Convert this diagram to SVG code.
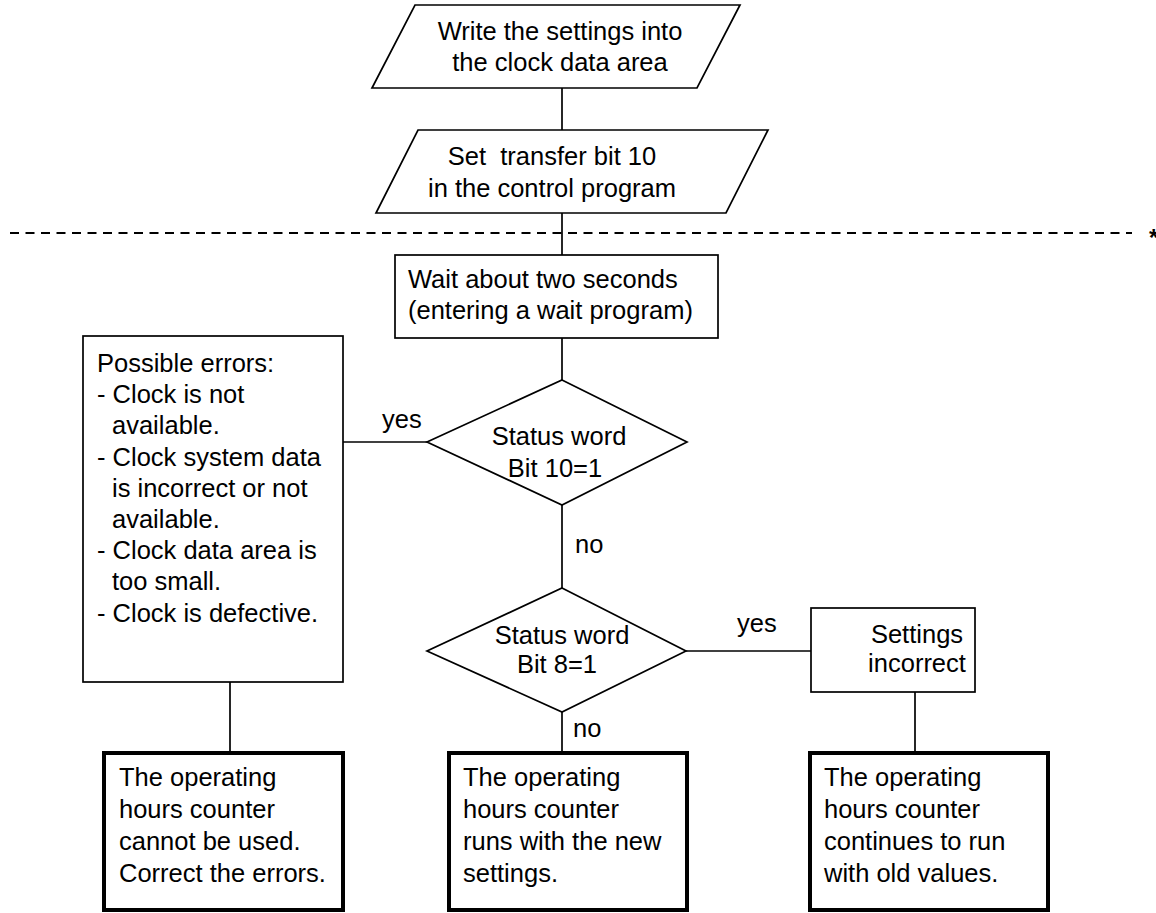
<svg xmlns="http://www.w3.org/2000/svg" width="1156" height="913" viewBox="0 0 1156 913">
<style>
  text { font-family: "Liberation Sans", Arial, sans-serif; font-size: 25.5px; fill: #000; }
  .c { text-anchor: middle; }
  .shape { fill: #fff; stroke: #000; stroke-width: 1.7; }
  .thick { fill: #fff; stroke: #000; stroke-width: 4; }
  .line { fill: none; stroke: #000; stroke-width: 1.7; }
  .dash { fill: none; stroke: #000; stroke-width: 2; stroke-dasharray: 9 6.5; }
</style>
<rect width="1156" height="913" fill="#fff"/>
<g id="connectors">
  <line class="line" x1="562" y1="88" x2="562" y2="130"/>
  <line class="line" x1="562" y1="213" x2="562" y2="255"/>
  <line class="line" x1="562" y1="338" x2="562" y2="380"/>
  <line class="line" x1="562" y1="505" x2="562" y2="588"/>
  <line class="line" x1="562" y1="712" x2="562" y2="753"/>
  <line class="line" x1="343" y1="442" x2="427" y2="442"/>
  <line class="line" x1="686" y1="651" x2="811" y2="651"/>
  <line class="line" x1="230" y1="682" x2="230" y2="753"/>
  <line class="line" x1="915" y1="692" x2="915" y2="753"/>
  <text x="382" y="428">yes</text>
  <text x="575" y="553">no</text>
  <text x="737" y="632">yes</text>
  <text x="573" y="737">no</text>
</g>
<g id="separator">
  <line class="dash" x1="10" y1="233" x2="1132" y2="233"/>
  <text x="1149" y="246" style="font-size:24px;font-weight:bold">*</text>
</g>
<g id="write-settings">
  <polygon class="shape" points="415,5 740,5 697,88 372,88"/>
  <text class="c" x="560" y="40">Write the settings into</text>
  <text class="c" x="560" y="71">the clock data area</text>
</g>
<g id="set-transfer-bit">
  <polygon class="shape" points="418,130 768,130 726,213 376,213"/>
  <text class="c" x="552" y="165" style="white-space:pre">Set  transfer bit 10</text>
  <text class="c" x="552" y="197">in the control program</text>
</g>
<g id="wait">
  <rect class="shape" x="395" y="255" width="323" height="83"/>
  <text x="408" y="288">Wait about two seconds</text>
  <text x="408" y="319">(entering a wait program)</text>
</g>
<g id="status-bit10">
  <polygon class="shape" points="562,380 687,442 562,505 427,442"/>
  <text class="c" x="559" y="445">Status word</text>
  <text class="c" x="555" y="477">Bit 10=1</text>
</g>
<g id="possible-errors">
  <rect class="shape" x="83" y="336" width="260" height="346"/>
  <text x="97" y="372">Possible errors:</text>
  <text x="97" y="403">- Clock is not</text>
  <text x="112" y="434">available.</text>
  <text x="97" y="466">- Clock system data</text>
  <text x="112" y="497">is incorrect or not</text>
  <text x="112" y="528">available.</text>
  <text x="97" y="559">- Clock data area is</text>
  <text x="112" y="590">too small.</text>
  <text x="97" y="622">- Clock is defective.</text>
</g>
<g id="status-bit8">
  <polygon class="shape" points="562,588 686,651 562,712 427,651"/>
  <text class="c" x="562" y="644">Status word</text>
  <text class="c" x="557" y="673">Bit 8=1</text>
</g>
<g id="settings-incorrect">
  <rect class="shape" x="811" y="608" width="164" height="84"/>
  <text class="c" x="917" y="643">Settings</text>
  <text class="c" x="917" y="672">incorrect</text>
</g>
<g id="result-errors">
  <rect class="thick" x="104" y="753" width="239" height="157"/>
  <text x="119" y="786">The operating</text>
  <text x="119" y="818">hours counter</text>
  <text x="119" y="850">cannot be used.</text>
  <text x="119" y="882">Correct the errors.</text>
</g>
<g id="result-new">
  <rect class="thick" x="449" y="753" width="238" height="157"/>
  <text x="463" y="786">The operating</text>
  <text x="463" y="818">hours counter</text>
  <text x="463" y="850">runs with the new</text>
  <text x="463" y="882">settings.</text>
</g>
<g id="result-old">
  <rect class="thick" x="810" y="753" width="238" height="157"/>
  <text x="824" y="786">The operating</text>
  <text x="824" y="818">hours counter</text>
  <text x="824" y="850">continues to run</text>
  <text x="824" y="882">with old values.</text>
</g>
</svg>
